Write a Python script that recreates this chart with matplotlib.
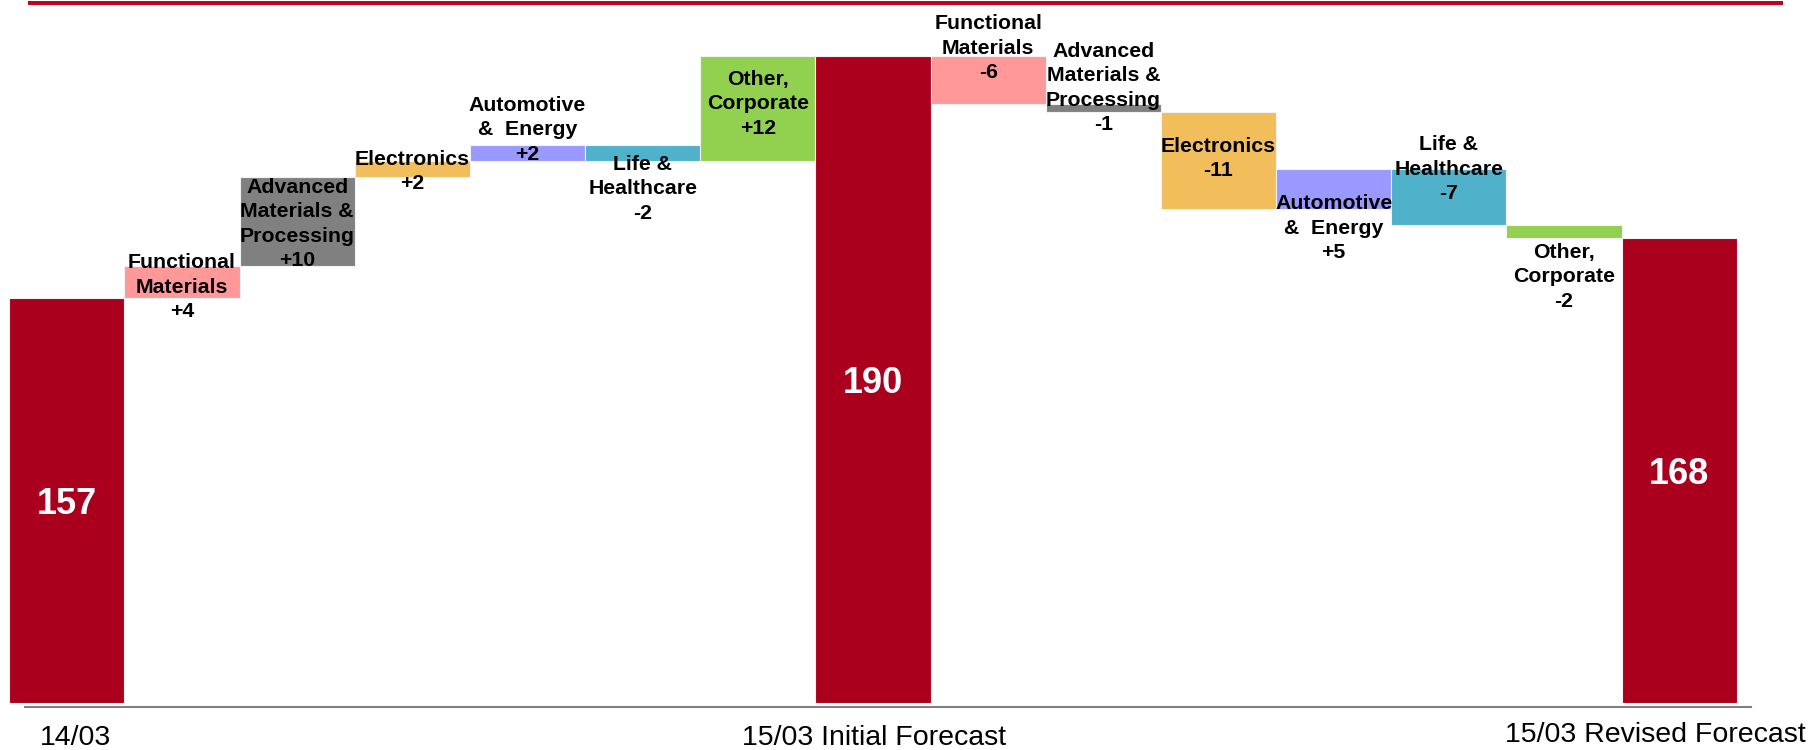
import matplotlib
matplotlib.use("Agg")
import matplotlib.pyplot as plt
from matplotlib.lines import Line2D

# ---------------- data ----------------
totals = [157, 190, 168]
total_names = ["14/03", "15/03 Initial Forecast", "15/03 Revised Forecast"]
segments = ["Functional\nMaterials", "Advanced\nMaterials &\nProcessing", "Electronics",
            "Automotive\n&  Energy", "Life &\nHealthcare", "Other,\nCorporate"]
# printed changes
initial_changes = [4, 10, 2, 2, -2, 12]
revised_changes = [-6, -1, -11, 5, -7, -2]
# step sizes as drawn in the source chart
initial_bars = [4.4, 12.1, 2.1, 2.3, -2.3, 14.4]
revised_bars = [-6.6, -1.1, -13.2, 5.5, -7.7, -1.7]

# ---------------- style ----------------
RED = "#AA001E"
seg_colors = ["#FF9999", "#808080", "#F2BE5C", "#9999FF", "#4FB1CA", "#92D050"]
initial_dy = [35, 44.6, 20.3, 6.8, 65.8, 25.1]    # px: last-line baseline below bar centre
revised_dy = [-1.6, 21.8, 15.3, 69.1, 2.1, 75.2]
FONT = "Liberation Sans"
plt.rcParams["font.family"] = [FONT, "DejaVu Sans"]

W, H, DPI = 1809, 750, 100
fig = plt.figure(figsize=(W / DPI, H / DPI), dpi=DPI)
base_px = 703.3
ax = fig.add_axes([0, (H - base_px) / H, 1, base_px / H])
slot, x0 = 115.16, 9.3
xl = -0.5 - x0 / slot
ax.set_xlim(xl, xl + W / slot)
y_base, ppu = 101.9, 7.352
ax.set_ylim(y_base, y_base + base_px / ppu)
ax.axis("off")

bar_kw = dict(width=1.0, linewidth=0.8, edgecolor="#f2f2f2")


def total_bar(xpos, top, label):
    ax.bar(xpos, top - y_base, bottom=y_base, color=RED, **bar_kw)
    ax.annotate(str(label), xy=(xpos, (top + y_base) / 2), xytext=(0, -13.5),
                textcoords="offset pixels", ha="center", va="baseline",
                color="white", fontsize=26, fontweight="bold")


def steps(start_x, level, bars, changes, dys):
    for i, (step, ch, dy) in enumerate(zip(bars, changes, dys)):
        xi = start_x + i
        ax.bar(xi, step, bottom=level, color=seg_colors[i], **bar_kw)
        ax.annotate(f"{segments[i]}\n{ch:+d}", xy=(xi, level + step / 2),
                    xytext=(0, -dy), textcoords="offset pixels",
                    ha="center", va="baseline", multialignment="center",
                    fontsize=15.3, fontweight="bold", color="black", linespacing=1.36)
        level += step
    return level


total_bar(0, totals[0], totals[0])
steps(1, totals[0], initial_bars, initial_changes, initial_dy)
total_bar(7, totals[1], totals[1])
end_level = steps(8, totals[1], revised_bars, revised_changes, revised_dy)
total_bar(14, end_level, totals[2])

# top red rule and bottom axis line
fig.add_artist(Line2D([30 / W, 1781 / W], [1 - 3 / H, 1 - 3 / H], color="#C00020",
                      linewidth=2.9, transform=fig.transFigure))
fig.add_artist(Line2D([25.4 / W, 1751 / W], [1 - 706.7 / H, 1 - 706.7 / H], color="#7f7f7f",
                      linewidth=1.5, transform=fig.transFigure))

# category labels under the total bars
name_pos = [(76, 745.0), (874, 745.0), (1655, 742.5)]
for name, (px, py) in zip(total_names, name_pos):
    fig.text(px / W, 1 - py / H, name, ha="center", va="baseline", fontsize=20.5, color="black")

fig.savefig("out.png", dpi=DPI)
